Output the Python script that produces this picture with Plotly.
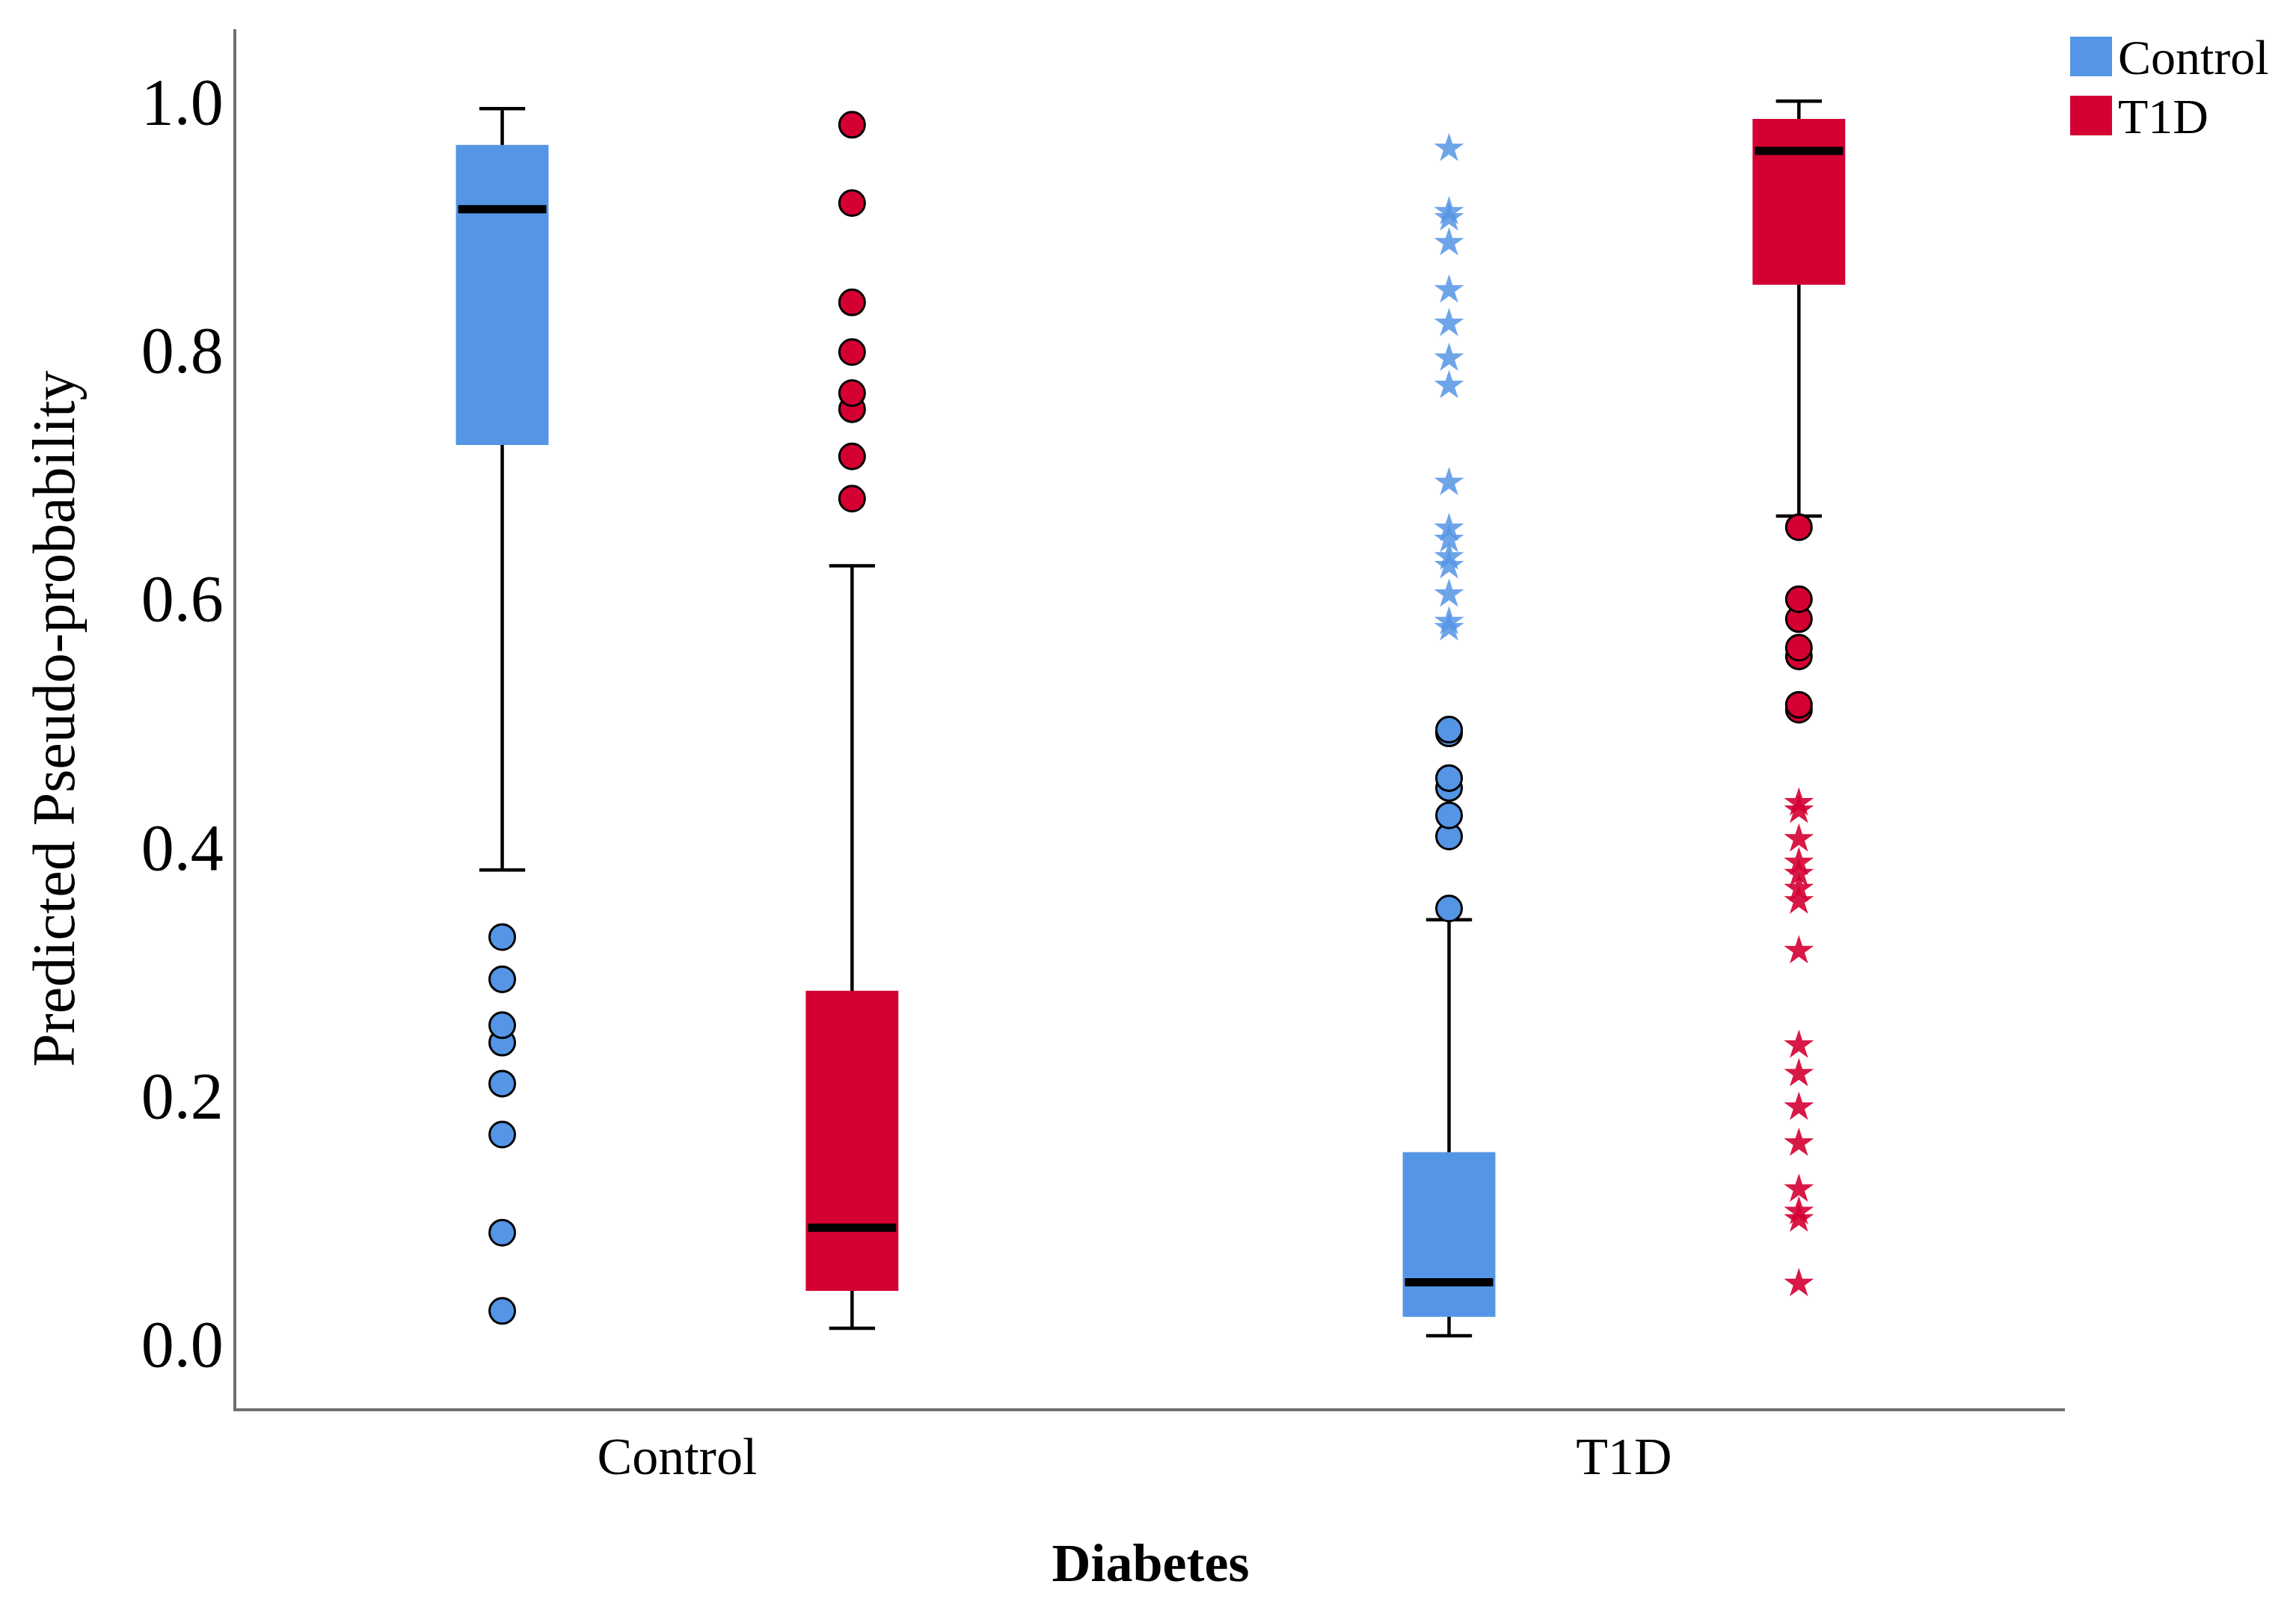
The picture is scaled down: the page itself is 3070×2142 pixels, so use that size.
import plotly.graph_objects as go

# ---------------- data ----------------
categories = ["Control", "T1D"]

# predicted group "Control" (blue) box statistics per Diabetes category
control_q1 = [0.725, 0.023]
control_median = [0.913, 0.049]
control_q3 = [0.963, 0.152]
control_lower = [0.381, 0.006]
control_upper = [0.994, 0.341]

# predicted group "T1D" (red) box statistics per Diabetes category
t1d_q1 = [0.044, 0.854]
t1d_median = [0.093, 0.960]
t1d_q3 = [0.282, 0.984]
t1d_lower = [0.012, 0.666]
t1d_upper = [0.626, 1.000]

# outliers (circles) and extremes (stars)
control_circle_cat = ["Control"] * 8 + ["T1D"] * 7
control_circle_val = [0.327, 0.293, 0.256, 0.242, 0.209, 0.168, 0.089, 0.026,
                      0.494, 0.491, 0.455, 0.447, 0.425, 0.408, 0.350]
control_star_cat = ["T1D"] * 16
control_star_val = [0.962, 0.911, 0.906, 0.886, 0.848, 0.821, 0.793, 0.771,
                    0.693, 0.656, 0.647, 0.633, 0.626, 0.603, 0.581, 0.576]

t1d_circle_cat = ["Control"] * 8 + ["T1D"] * 7
t1d_circle_val = [0.981, 0.918, 0.838, 0.798, 0.765, 0.752, 0.714, 0.680,
                  0.657, 0.599, 0.583, 0.560, 0.553, 0.514, 0.510]
t1d_star_cat = ["T1D"] * 16
t1d_star_val = [0.435, 0.429, 0.406, 0.387, 0.378, 0.366, 0.356, 0.316,
                0.240, 0.217, 0.190, 0.161, 0.124, 0.106, 0.100, 0.048]

y_ticks = [0.0, 0.2, 0.4, 0.6, 0.8, 1.0]
legend_labels = ["Control", "T1D"]

# ---------------- style ----------------
BLUE = "#5595E5"
RED = "#D40032"
FONT = "Liberation Serif"
OFF = 8  # default page body margin
W, H = 3070 - OFF, 2142 - OFF
ML, MT = 316 - OFF, 39 - OFF
PW, PH = 2445, 1844
MR, MB = W - ML - PW, H - MT - PH

fig = go.Figure()


def stat_box(q1, med, q3, lo, hi, fill, lcolor, lw, group):
    return go.Box(
        x=categories, q1=q1, median=med, q3=q3, lowerfence=lo, upperfence=hi,
        fillcolor=fill, line=dict(color=lcolor, width=lw),
        boxpoints=False, whiskerwidth=0.52, offsetgroup=group,
        alignmentgroup="all", showlegend=False, hoverinfo="skip",
    )


def point_box(cats, vals, symbol, size, color, lcolor, lw, group, opacity=1.0):
    return go.Box(
        x=cats, y=vals, boxpoints="all", jitter=0, pointpos=0,
        fillcolor="rgba(0,0,0,0)", line=dict(color="rgba(0,0,0,0)", width=0),
        marker=dict(symbol=symbol, size=size, color=color, opacity=opacity,
                    line=dict(color=lcolor, width=lw)),
        offsetgroup=group, alignmentgroup="all", showlegend=False,
        hoveron="points",
    )


for grp, q1, med, q3, lo, hi, col in [
    ("c", control_q1, control_median, control_q3, control_lower, control_upper, BLUE),
    ("t", t1d_q1, t1d_median, t1d_q3, t1d_lower, t1d_upper, RED),
]:
    # whiskers + caps (black)
    fig.add_trace(stat_box(q1, med, q3, lo, hi, col, "black", 4.5, grp))
    # borderless coloured box on top
    fig.add_trace(stat_box(q1, q3, q3, q1, q3, col, col, 6, grp))
    # thick black median
    fig.add_trace(stat_box(med, med, med, med, med, "black", "black", 11, grp))

fig.add_trace(point_box(control_circle_cat, control_circle_val, "circle", 34, BLUE, "black", 3, "c"))
fig.add_trace(point_box(control_star_cat, control_star_val, "star", 30, BLUE, BLUE, 0, "c", 0.85))
fig.add_trace(point_box(t1d_circle_cat, t1d_circle_val, "circle", 34, RED, "black", 3, "t"))
fig.add_trace(point_box(t1d_star_cat, t1d_star_val, "star", 30, RED, RED, 0, "t", 0.9))

# ---------------- manual legend (page pixel positions) ----------------


def px_x(px):
    return (px - OFF - ML) / PW


def px_y(py):
    return (MT + PH - (py - OFF)) / PH


shapes = []
annotations = []
for i, (lab, col) in enumerate(zip(legend_labels, [BLUE, RED])):
    top = 49 + i * 79
    shapes.append(dict(type="rect", xref="paper", yref="paper",
                       x0=px_x(2768), x1=px_x(2824), y0=px_y(top + 53), y1=px_y(top),
                       fillcolor=col, line=dict(width=0)))
    annotations.append(dict(xref="paper", yref="paper", x=px_x(2830), y=px_y(top + 28),
                            xanchor="left", yanchor="middle", text=lab, showarrow=False,
                            font=dict(family=FONT, size=66, color="black")))

fig.update_layout(
    width=W, height=H,
    margin=dict(l=ML, r=MR, t=MT, b=MB),
    paper_bgcolor="white", plot_bgcolor="white",
    boxmode="group", boxgap=0.261, boxgroupgap=0.748,
    showlegend=False,
    shapes=shapes, annotations=annotations,
    xaxis=dict(
        type="category", categoryorder="array", categoryarray=categories,
        range=[-0.4656, 1.4657],
        showline=True, linecolor="#707070", linewidth=3.5, mirror=False,
        showgrid=False, zeroline=False, ticks="", ticklen=0,
        tickfont=dict(family=FONT, size=70, color="black"),
        ticklabelstandoff=0,
        title=dict(text="Diabetes", standoff=80,
                   font=dict(family=FONT, size=72, color="black", weight="bold")),
    ),
    yaxis=dict(
        range=[-0.0524, 1.058],
        tickvals=y_ticks, ticktext=[f"{v:.1f}" for v in y_ticks],
        showline=True, linecolor="#707070", linewidth=3.5,
        showgrid=False, zeroline=False, ticks="", ticklen=0,
        tickfont=dict(family=FONT, size=88, color="black"),
        ticklabelstandoff=-4,
        title=dict(text="Predicted Pseudo-probability", standoff=64,
                   font=dict(family=FONT, size=80, color="black")),
    ),
)

fig.write_html("out.html")
